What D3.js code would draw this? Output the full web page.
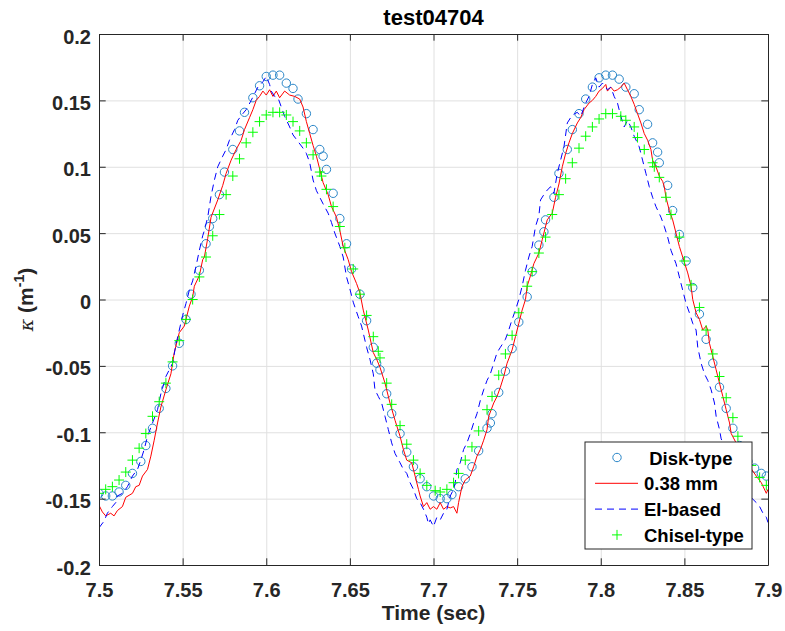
<!DOCTYPE html>
<html>
<head>
<meta charset="utf-8">
<script src="https://cdn.jsdelivr.net/npm/d3@7"></script>
<style>
  body { margin: 0; background: #fff; }
  text { font-family: "Liberation Sans", Arial, sans-serif; }
</style>
</head>
<body>
<svg id="chart" width="785" height="631"></svg>
<script>
// test04704 - curvature vs time, four measurement methods

const xTicks = [7.5, 7.55, 7.6, 7.65, 7.7, 7.75, 7.8, 7.85, 7.9];
const yTicks = [-0.2, -0.15, -0.1, -0.05, 0, 0.05, 0.1, 0.15, 0.2];
const seriesNames = [" Disk-type", "0.38 mm", "EI-based", "Chisel-type"];

// [time (sec), kappa (1/m)]
const diskType = [
  [7.500,-0.146],[7.504,-0.148],[7.508,-0.148],[7.512,-0.145],[7.516,-0.140],[7.520,-0.131],
  [7.525,-0.122],[7.528,-0.110],[7.532,-0.097],[7.536,-0.082],[7.540,-0.067],[7.544,-0.050],
  [7.548,-0.033],[7.552,-0.015],[7.555,0.004],[7.560,0.022],[7.564,0.042],[7.566,0.055],
  [7.568,0.061],[7.572,0.079],[7.575,0.096],[7.580,0.113],[7.584,0.127],[7.587,0.141],
  [7.592,0.152],[7.596,0.161],[7.600,0.168],[7.604,0.169],[7.608,0.169],[7.612,0.163],
  [7.616,0.159],[7.619,0.151],[7.624,0.140],[7.628,0.128],[7.632,0.113],[7.634,0.108],
  [7.636,0.098],[7.640,0.080],[7.644,0.061],[7.648,0.042],[7.651,0.023],[7.656,0.004],
  [7.660,-0.016],[7.664,-0.036],[7.666,-0.048],[7.668,-0.053],[7.672,-0.071],[7.675,-0.086],
  [7.680,-0.101],[7.684,-0.115],[7.688,-0.126],[7.692,-0.135],[7.696,-0.141],[7.700,-0.148],
  [7.704,-0.150],[7.708,-0.150],[7.711,-0.147],[7.715,-0.141],[7.719,-0.135],[7.723,-0.126],
  [7.727,-0.114],[7.732,-0.097],[7.734,-0.093],[7.735,-0.086],[7.739,-0.070],[7.743,-0.054],
  [7.747,-0.037],[7.751,-0.017],[7.756,0.002],[7.759,0.021],[7.763,0.041],[7.766,0.051],
  [7.767,0.060],[7.772,0.077],[7.775,0.095],[7.780,0.113],[7.783,0.128],[7.787,0.140],
  [7.791,0.151],[7.795,0.160],[7.799,0.167],[7.803,0.169],[7.807,0.169],[7.811,0.166],
  [7.815,0.160],[7.820,0.155],[7.823,0.143],[7.828,0.132],[7.831,0.118],[7.834,0.111],
  [7.835,0.103],[7.840,0.086],[7.843,0.067],[7.847,0.049],[7.851,0.029],[7.855,0.009],
  [7.859,-0.011],[7.863,-0.030],[7.867,-0.048],[7.871,-0.066],[7.875,-0.082],[7.879,-0.097],
  [7.883,-0.110],[7.888,-0.122],[7.892,-0.127],[7.896,-0.131],[7.899,-0.133]
];

const mm038 = [
  [7.500,-0.155],[7.502,-0.160],[7.504,-0.163],[7.507,-0.161],[7.509,-0.163],[7.511,-0.159],
  [7.514,-0.156],[7.516,-0.149],[7.520,-0.146],[7.522,-0.141],[7.524,-0.140],[7.526,-0.133],
  [7.529,-0.128],[7.531,-0.118],[7.533,-0.106],[7.535,-0.093],[7.537,-0.081],[7.540,-0.068],
  [7.543,-0.056],[7.545,-0.040],[7.548,-0.025],[7.551,-0.020],[7.554,-0.005],[7.556,0.002],
  [7.557,0.010],[7.560,0.018],[7.562,0.030],[7.563,0.032],[7.565,0.046],[7.567,0.062],
  [7.571,0.075],[7.574,0.086],[7.576,0.095],[7.579,0.105],[7.582,0.113],[7.585,0.120],
  [7.587,0.128],[7.590,0.137],[7.592,0.143],[7.594,0.150],[7.596,0.153],[7.598,0.157],
  [7.600,0.154],[7.602,0.158],[7.604,0.153],[7.606,0.157],[7.608,0.152],[7.611,0.157],
  [7.614,0.154],[7.617,0.153],[7.620,0.151],[7.622,0.145],[7.624,0.134],[7.626,0.125],
  [7.628,0.116],[7.630,0.108],[7.632,0.098],[7.634,0.088],[7.637,0.079],[7.639,0.070],
  [7.642,0.062],[7.644,0.052],[7.646,0.040],[7.649,0.030],[7.651,0.021],[7.654,0.012],
  [7.656,0.005],[7.658,-0.008],[7.661,-0.023],[7.664,-0.040],[7.666,-0.045],[7.668,-0.051],
  [7.671,-0.063],[7.674,-0.078],[7.677,-0.091],[7.680,-0.103],[7.682,-0.113],[7.684,-0.121],
  [7.687,-0.123],[7.689,-0.133],[7.691,-0.143],[7.692,-0.148],[7.694,-0.156],[7.696,-0.153],
  [7.698,-0.158],[7.700,-0.156],[7.702,-0.158],[7.704,-0.153],[7.706,-0.158],[7.708,-0.156],
  [7.710,-0.157],[7.712,-0.156],[7.714,-0.161],[7.715,-0.153],[7.717,-0.141],[7.719,-0.136],
  [7.722,-0.133],[7.724,-0.126],[7.726,-0.118],[7.728,-0.113],[7.730,-0.106],[7.732,-0.098],
  [7.733,-0.088],[7.736,-0.078],[7.738,-0.073],[7.740,-0.066],[7.742,-0.058],[7.744,-0.048],
  [7.747,-0.038],[7.749,-0.028],[7.751,-0.018],[7.753,-0.008],[7.755,0.000],[7.756,0.010],
  [7.758,0.018],[7.760,0.027],[7.763,0.035],[7.765,0.045],[7.768,0.060],[7.771,0.065],
  [7.773,0.077],[7.775,0.087],[7.777,0.100],[7.779,0.110],[7.781,0.118],[7.783,0.125],
  [7.786,0.133],[7.788,0.137],[7.790,0.143],[7.793,0.148],[7.795,0.150],[7.797,0.153],
  [7.799,0.157],[7.801,0.159],[7.803,0.162],[7.804,0.157],[7.806,0.160],[7.808,0.157],
  [7.810,0.158],[7.812,0.160],[7.814,0.163],[7.816,0.158],[7.818,0.153],[7.820,0.147],
  [7.822,0.140],[7.824,0.133],[7.826,0.125],[7.828,0.120],[7.830,0.113],[7.831,0.105],
  [7.833,0.100],[7.835,0.093],[7.837,0.089],[7.838,0.085],[7.839,0.077],[7.841,0.067],
  [7.843,0.060],[7.845,0.050],[7.847,0.040],[7.849,0.032],[7.852,0.020],[7.854,0.010],
  [7.855,0.000],[7.857,-0.010],[7.859,-0.015],[7.861,-0.023],[7.863,-0.020],[7.864,-0.023],
  [7.865,-0.033],[7.867,-0.043],[7.869,-0.053],[7.871,-0.063],[7.873,-0.073],[7.875,-0.083],
  [7.877,-0.093],[7.878,-0.101],[7.883,-0.113],[7.888,-0.124],[7.893,-0.133],[7.896,-0.138],
  [7.899,-0.146],[7.900,-0.143]
];

const eiBased = [
  [7.500,-0.172],[7.503,-0.167],[7.505,-0.161],[7.508,-0.156],[7.510,-0.153],[7.511,-0.148],
  [7.514,-0.146],[7.517,-0.141],[7.520,-0.133],[7.523,-0.128],[7.525,-0.121],[7.527,-0.113],
  [7.529,-0.103],[7.532,-0.093],[7.535,-0.083],[7.537,-0.071],[7.540,-0.058],[7.544,-0.048],
  [7.546,-0.034],[7.550,-0.012],[7.552,-0.003],[7.554,0.007],[7.556,0.014],[7.558,0.025],
  [7.560,0.037],[7.562,0.048],[7.563,0.052],[7.565,0.062],[7.567,0.078],[7.569,0.090],
  [7.571,0.100],[7.574,0.108],[7.576,0.113],[7.578,0.120],[7.581,0.128],[7.583,0.135],
  [7.586,0.140],[7.588,0.143],[7.591,0.150],[7.593,0.155],[7.595,0.160],[7.598,0.164],
  [7.600,0.168],[7.602,0.162],[7.603,0.157],[7.605,0.153],[7.607,0.152],[7.609,0.145],
  [7.611,0.138],[7.614,0.130],[7.616,0.124],[7.619,0.119],[7.622,0.114],[7.624,0.110],
  [7.626,0.103],[7.628,0.090],[7.630,0.082],[7.632,0.077],[7.634,0.072],[7.637,0.065],
  [7.639,0.058],[7.641,0.050],[7.644,0.040],[7.646,0.032],[7.648,0.017],[7.650,0.008],
  [7.652,-0.002],[7.655,-0.013],[7.657,-0.020],[7.660,-0.036],[7.662,-0.045],[7.664,-0.056],
  [7.665,-0.068],[7.667,-0.073],[7.669,-0.078],[7.671,-0.088],[7.673,-0.098],[7.675,-0.108],
  [7.677,-0.116],[7.680,-0.123],[7.682,-0.128],[7.684,-0.131],[7.686,-0.138],[7.688,-0.143],
  [7.690,-0.150],[7.692,-0.153],[7.694,-0.158],[7.696,-0.164],[7.697,-0.169],[7.698,-0.166],
  [7.700,-0.171],[7.702,-0.164],[7.704,-0.166],[7.706,-0.161],[7.708,-0.158],[7.710,-0.148],
  [7.712,-0.143],[7.713,-0.138],[7.714,-0.128],[7.716,-0.123],[7.718,-0.113],[7.720,-0.108],
  [7.722,-0.101],[7.724,-0.093],[7.726,-0.086],[7.728,-0.076],[7.730,-0.068],[7.732,-0.061],
  [7.734,-0.056],[7.736,-0.048],[7.738,-0.040],[7.740,-0.036],[7.743,-0.030],[7.745,-0.023],
  [7.747,-0.015],[7.749,-0.008],[7.751,0.000],[7.753,0.010],[7.755,0.022],[7.757,0.032],
  [7.759,0.040],[7.761,0.055],[7.763,0.063],[7.764,0.075],[7.767,0.081],[7.770,0.085],
  [7.772,0.080],[7.774,0.095],[7.776,0.105],[7.778,0.115],[7.780,0.133],[7.783,0.139],
  [7.786,0.141],[7.788,0.138],[7.791,0.148],[7.793,0.153],[7.795,0.162],[7.797,0.167],
  [7.799,0.160],[7.801,0.163],[7.804,0.158],[7.806,0.160],[7.808,0.153],[7.810,0.148],
  [7.812,0.138],[7.814,0.130],[7.816,0.135],[7.818,0.130],[7.820,0.123],[7.823,0.115],
  [7.825,0.105],[7.827,0.095],[7.829,0.085],[7.831,0.077],[7.833,0.070],[7.836,0.062],
  [7.838,0.055],[7.840,0.047],[7.842,0.037],[7.845,0.027],[7.847,0.017],[7.849,0.007],
  [7.851,-0.003],[7.853,-0.010],[7.855,-0.018],[7.857,-0.023],[7.858,-0.036],[7.860,-0.048],
  [7.862,-0.056],[7.864,-0.061],[7.866,-0.068],[7.868,-0.078],[7.869,-0.088],[7.871,-0.098],
  [7.872,-0.105],[7.877,-0.118],[7.883,-0.133],[7.889,-0.148],[7.893,-0.153],[7.895,-0.156],
  [7.897,-0.161],[7.899,-0.164],[7.900,-0.168]
];

const chiselType = [
  [7.500,-0.146],[7.504,-0.143],[7.508,-0.141],[7.512,-0.136],[7.516,-0.130],[7.520,-0.121],
  [7.524,-0.112],[7.528,-0.101],[7.532,-0.088],[7.536,-0.077],[7.540,-0.063],[7.544,-0.047],
  [7.548,-0.031],[7.552,-0.015],[7.556,0.000],[7.560,0.017],[7.564,0.032],[7.568,0.048],
  [7.572,0.064],[7.576,0.079],[7.580,0.093],[7.584,0.106],[7.588,0.118],[7.592,0.126],
  [7.596,0.134],[7.600,0.139],[7.604,0.141],[7.608,0.141],[7.612,0.139],[7.616,0.134],
  [7.620,0.127],[7.624,0.118],[7.628,0.109],[7.632,0.096],[7.633,0.093],[7.636,0.083],
  [7.640,0.070],[7.644,0.055],[7.647,0.039],[7.652,0.023],[7.656,0.004],[7.660,-0.012],
  [7.664,-0.028],[7.667,-0.039],[7.668,-0.044],[7.672,-0.063],[7.675,-0.079],[7.680,-0.095],
  [7.684,-0.109],[7.688,-0.121],[7.692,-0.131],[7.696,-0.140],[7.701,-0.144],[7.704,-0.145],
  [7.708,-0.143],[7.712,-0.138],[7.715,-0.131],[7.719,-0.121],[7.723,-0.111],[7.727,-0.099],
  [7.732,-0.083],[7.735,-0.073],[7.739,-0.057],[7.743,-0.041],[7.747,-0.027],[7.751,-0.010],
  [7.756,0.010],[7.759,0.021],[7.763,0.035],[7.767,0.047],[7.771,0.064],[7.775,0.079],
  [7.779,0.091],[7.783,0.103],[7.787,0.114],[7.791,0.123],[7.795,0.130],[7.799,0.136],
  [7.803,0.140],[7.807,0.140],[7.812,0.138],[7.815,0.135],[7.820,0.130],[7.822,0.122],
  [7.826,0.113],[7.831,0.103],[7.832,0.100],[7.835,0.092],[7.839,0.077],[7.842,0.064],
  [7.847,0.047],[7.850,0.029],[7.854,0.011],[7.859,-0.006],[7.863,-0.023],[7.867,-0.041],
  [7.871,-0.058],[7.875,-0.074],[7.879,-0.089],[7.882,-0.103],[7.886,-0.114],[7.890,-0.125],
  [7.895,-0.134],[7.899,-0.140]
];

const margin = {top: 34, right: 17, bottom: 66, left: 99};
const width = 785 - margin.left - margin.right;
const height = 631 - margin.top - margin.bottom;
const axisColor = "#262626";
const diskColor = "#2a86c8";
const tickLen = 6.7;

const svg = d3.select("#chart");
const g = svg.append("g")
    .attr("transform", `translate(${margin.left},${margin.top})`);

const x = d3.scaleLinear().domain([7.5, 7.9]).range([0, width]);
const y = d3.scaleLinear().domain([-0.2, 0.2]).range([height, 0]);

// grid
g.append("g")
    .attr("transform", `translate(0,${height})`)
    .call(d3.axisBottom(x).tickValues(xTicks).tickSize(-height).tickFormat(""))
    .call(a => a.select(".domain").remove())
    .call(a => a.selectAll("line").attr("stroke", "#e0e0e0"));
g.append("g")
    .call(d3.axisLeft(y).tickValues(yTicks).tickSize(-width).tickFormat(""))
    .call(a => a.select(".domain").remove())
    .call(a => a.selectAll("line").attr("stroke", "#e0e0e0"));

// data
g.append("clipPath").attr("id", "plotClip")
    .append("rect").attr("width", width).attr("height", height);
const plot = g.append("g").attr("clip-path", "url(#plotClip)");

const line = d3.line().x(d => x(d[0])).y(d => y(d[1]));

plot.selectAll("circle.disk")
    .data(diskType)
    .enter()
    .append("circle")
    .attr("class", "disk")
    .attr("cx", d => x(d[0]))
    .attr("cy", d => y(d[1]))
    .attr("r", 4.2)
    .attr("fill", "none")
    .attr("stroke", diskColor)
    .attr("stroke-width", 1);

plot.append("path")
    .datum(mm038)
    .attr("d", line)
    .attr("fill", "none")
    .attr("stroke", "#ff0000")
    .attr("stroke-width", 1);

plot.append("path")
    .datum(eiBased)
    .attr("d", line)
    .attr("fill", "none")
    .attr("stroke", "#0000ff")
    .attr("stroke-width", 1)
    .attr("stroke-dasharray", "7,5");

plot.selectAll("path.chisel")
    .data(chiselType)
    .enter()
    .append("path")
    .attr("class", "chisel")
    .attr("d", d => `M${x(d[0]) - 5},${y(d[1])}h10M${x(d[0])},${y(d[1]) - 5}v10`)
    .attr("stroke", "#00ff00")
    .attr("stroke-width", 1)
    .attr("fill", "none");

// axes (box with inward ticks)
const styleAxis = a => {
    a.select(".domain").attr("stroke", axisColor);
    a.selectAll("line").attr("stroke", axisColor);
    a.selectAll("text")
        .attr("fill", axisColor)
        .attr("font-size", "20px")
        .attr("font-weight", "bold")
        .attr("font-family", "Liberation Sans, Arial, sans-serif");
};

g.append("g")
    .attr("transform", `translate(0,${height})`)
    .call(d3.axisBottom(x).tickValues(xTicks).tickSize(-tickLen).tickSizeOuter(0)
        .tickPadding(18).tickFormat(d => String(d)))
    .call(styleAxis);
g.append("g")
    .call(d3.axisLeft(y).tickValues(yTicks).tickSize(-tickLen).tickSizeOuter(0)
        .tickPadding(8).tickFormat(d => String(d)))
    .call(styleAxis)
    .call(a => a.selectAll("text").attr("dy", "0.45em"));
g.append("g")
    .call(d3.axisTop(x).tickValues(xTicks).tickSize(-tickLen).tickSizeOuter(0).tickFormat(""))
    .call(styleAxis);
g.append("g")
    .attr("transform", `translate(${width},0)`)
    .call(d3.axisRight(y).tickValues(yTicks).tickSize(-tickLen).tickSizeOuter(0).tickFormat(""))
    .call(styleAxis);

// title and labels
g.append("text")
    .attr("x", width / 2)
    .attr("y", -9)
    .attr("text-anchor", "middle")
    .attr("font-size", "22px")
    .attr("font-weight", "bold")
    .attr("fill", "#000")
    .text("test04704");

g.append("text")
    .attr("x", width / 2)
    .attr("y", height + 55)
    .attr("text-anchor", "middle")
    .attr("font-size", "21px")
    .attr("font-weight", "bold")
    .attr("fill", axisColor)
    .text("Time (sec)");

const yLabel = g.append("text")
    .attr("transform", `translate(-66,${height / 2}) rotate(-90)`)
    .attr("text-anchor", "middle")
    .attr("font-size", "21px")
    .attr("font-weight", "bold")
    .attr("fill", axisColor);
yLabel.append("tspan").attr("font-style", "italic").attr("font-weight", "normal")
    .attr("font-size", "19px").attr("font-family", "DejaVu Serif, serif").text("\u03BA");
yLabel.append("tspan").text(" (m");
yLabel.append("tspan").attr("font-size", "14px").attr("dy", -9).text("-1");
yLabel.append("tspan").attr("dy", 9).text(")");

// legend
const legend = svg.append("g").attr("transform", "translate(585,442)");
legend.append("rect")
    .attr("width", 167)
    .attr("height", 107)
    .attr("fill", "#fff")
    .attr("stroke", axisColor)
    .attr("stroke-width", 1);

seriesNames.forEach((name, i) => {
    const cy = 15.5 + i * 25.8;
    if (i === 0) {
        legend.append("circle").attr("cx", 32).attr("cy", cy).attr("r", 4.2)
            .attr("fill", "none").attr("stroke", diskColor);
    } else if (i === 1) {
        legend.append("line").attr("x1", 10).attr("x2", 53).attr("y1", cy).attr("y2", cy)
            .attr("stroke", "#ff0000");
    } else if (i === 2) {
        legend.append("line").attr("x1", 10).attr("x2", 53).attr("y1", cy).attr("y2", cy)
            .attr("stroke", "#0000ff").attr("stroke-dasharray", "7,5");
    } else {
        legend.append("path").attr("d", `M27,${cy}h10M32,${cy - 5}v10`)
            .attr("stroke", "#00ff00").attr("fill", "none");
    }
    legend.append("text")
        .attr("x", 59)
        .attr("y", cy + 7)
        .attr("font-size", "18.5px")
        .attr("font-weight", "bold")
        .attr("fill", "#000")
        .style("white-space", "pre")
        .text(name);
});
</script>
</body>
</html>
